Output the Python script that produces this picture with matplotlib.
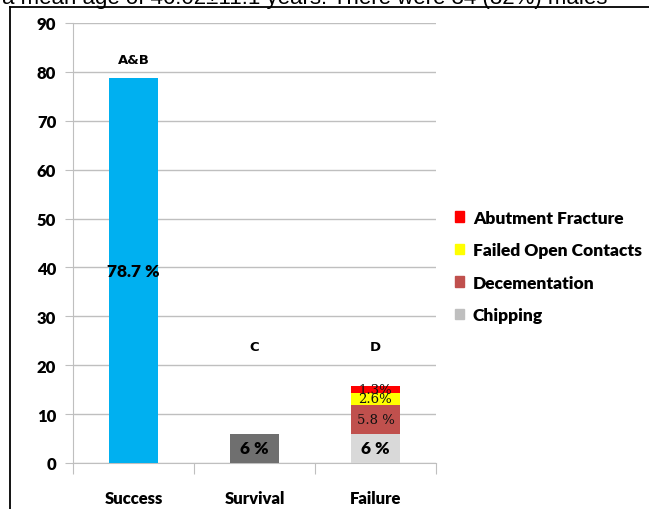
import numpy as np
import matplotlib.pyplot as plt
from matplotlib.patches import Patch
from matplotlib.lines import Line2D

categories = ["Success", "Survival", "Failure"]
success_val = 78.7
survival_val = 6
failure_parts = ["Chipping", "Decementation", "Failed Open Contacts", "Abutment Fracture"]
failure_vals = [6, 5.8, 2.6, 1.3]
failure_labels = ["6 %", "5.8 %", "2.6%", "1.3%"]
group_letters = ["A&B", "C", "D"]
yticks = [0, 10, 20, 30, 40, 50, 60, 70, 80, 90]

c_success = "#00b0f0"
c_survival = "#6f6f6f"
failure_colors = ["#d9d9d9", "#c0504d", "#ffff00", "#ff0000"]
legend_colors = ["#bfbfbf", "#c0504d", "#ffff00", "#ff0000"]

plt.rcParams['font.family'] = ['Lato', 'DejaVu Sans']

fig = plt.figure(figsize=(6.49, 5.10), dpi=100)
ax = fig.add_axes([73/649, 1-464/510, (436-73)/649, 440/510])

x = np.arange(3)
w = 0.41
grid_c = "#bfbfbf"

ax.bar(x[0], success_val, w, color=c_success, zorder=3)
ax.bar(x[1], survival_val, w, color=c_survival, zorder=3)
bottom = 0
for v, c in zip(failure_vals, failure_colors):
    ax.bar(x[2], v, w, bottom=bottom, color=c, zorder=3)
    bottom += v

# value labels
ax.text(x[0], success_val/2, "78.7 %", ha='center', va='center', fontsize=12.5,
        fontweight='heavy', zorder=4)
ax.text(x[1], survival_val/2, "6 %", ha='center', va='center', fontsize=12.5,
        fontweight='heavy', zorder=4)
bottom = 0
for i, (v, lab) in enumerate(zip(failure_vals, failure_labels)):
    mid = bottom + v/2
    if i == 0:
        ax.text(x[2], mid, lab, ha='center', va='center', fontsize=12.5,
                fontweight='heavy', zorder=4)
    else:
        ax.text(x[2], mid, lab, ha='center', va='center', fontsize=9.5,
                family='DejaVu Serif', color='#111111', zorder=4)
    bottom += v

# group letters
letter_y = [82.6, 23.9, 23.9]
for xi, t, yy in zip(x, group_letters, letter_y):
    ax.text(xi, yy, t, ha='center', va='center', fontsize=9.5,
            fontweight='heavy', family='DejaVu Sans', zorder=4)

ax.set_xlim(-0.5, 2.5)
ax.set_ylim(0, 90)
ax.set_yticks(yticks)
ax.set_yticklabels([str(t) for t in yticks], fontsize=12, fontweight='heavy')
ax.yaxis.grid(True, color=grid_c, linewidth=1, zorder=0)
ax.tick_params(axis='y', length=6, color=grid_c, pad=6)

ax.set_xticks([-0.5, 0.5, 1.5, 2.5])
ax.set_xticklabels([])
ax.tick_params(axis='x', length=8, color=grid_c)
for xi, t in zip(x, categories):
    ax.text(xi, -7.2, t, ha='center', va='center', fontsize=12, fontweight='heavy')

for s in ['top', 'right']:
    ax.spines[s].set_visible(False)
ax.spines['left'].set_color(grid_c)
ax.spines['bottom'].set_color(grid_c)

handles = [Patch(color=c) for c in legend_colors[::-1]]
names = failure_parts[::-1]
fig.legend(handles, names, loc='upper left', bbox_to_anchor=(439/649, 1-195/510),
           frameon=False, handlelength=0.55, handleheight=0.55, handletextpad=0.5,
           labelspacing=0.95, prop={'weight': 'heavy', 'size': 12.5})

# page frame and clipped caption text
fig.add_artist(Line2D([10/649, 1], [1-8/510, 1-8/510], color='black', lw=1.3))
fig.add_artist(Line2D([10/649, 10/649], [0, 1-8/510], color='black', lw=1.3))
fig.text(2/649, 1-4/510, "a mean age of 46.02±11.1 years. There were 34 (32%) males",
         ha='left', va='baseline', fontsize=16, family='Liberation Sans')

fig.savefig("out.png", dpi=100)
